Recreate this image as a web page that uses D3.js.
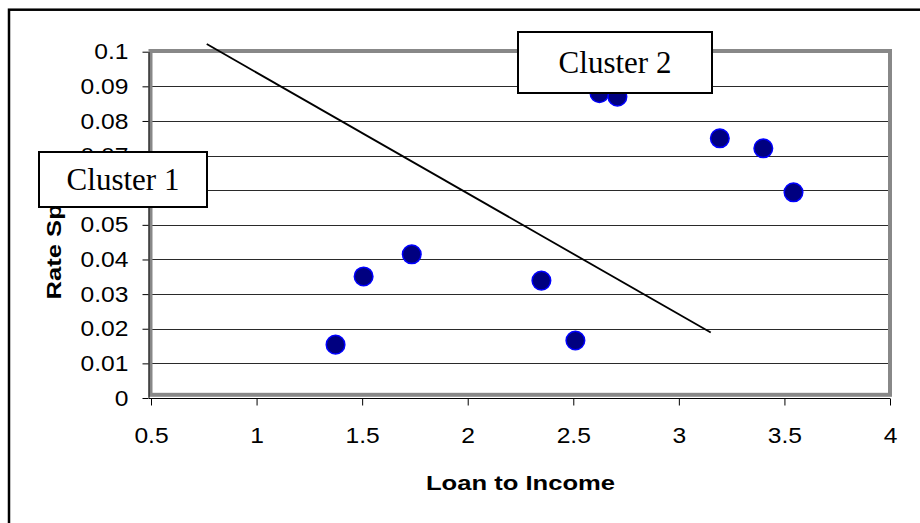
<!DOCTYPE html>
<html lang="en">
<head>
  <script src="https://cdn.jsdelivr.net/npm/d3@7"></script>
  <style>
    body { margin: 0; background: #fff; }
    svg { display: block; }
    .tick line { stroke: #000; }
    .domain { stroke: #000; }
  </style>
</head>
<body>
  <svg id="chart"></svg>
  <script>
    // scatter points
    var loanToIncome = [1.374, 1.507, 1.735, 2.349, 2.510, 2.624, 2.709, 3.194, 3.400, 3.543];
    var rateSpread   = [0.0154, 0.0351, 0.0415, 0.0339, 0.0166, 0.0880, 0.0870, 0.0750, 0.0721, 0.0594];

    // the hand drawn separating line
    var dividerX = [0.764, 3.151];
    var dividerY = [0.1022, 0.0189];

    var xTicks = [0.5, 1, 1.5, 2, 2.5, 3, 3.5, 4];
    var yTicks = [0, 0.01, 0.02, 0.03, 0.04, 0.05, 0.06, 0.07, 0.08, 0.09, 0.1];

    var clusterNames = ['Cluster 1', 'Cluster 2'];

    var width = 920, height = 523;

    var svg = d3.select('#chart')
      .attr('width', width)
      .attr('height', height);

    var x = d3.scaleLinear().domain([0.5, 4]).range([151, 890]);
    var y = d3.scaleLinear().domain([0, 0.1]).range([398, 51.7]);

    // outer chart frame (runs off the right and bottom edges)
    svg.append('rect')
      .attr('x', 9).attr('y', 9.7)
      .attr('width', 1000).attr('height', 1000)
      .attr('fill', '#fff')
      .attr('stroke', '#000')
      .attr('stroke-width', 2.5);

    // gridlines
    svg.append('g')
      .selectAll('line')
      .data(yTicks.filter(function (d) { return d > 0 && d < 0.1; }))
      .enter().append('line')
      .attr('x1', x(0.5)).attr('x2', x(4))
      .attr('y1', function (d) { return Math.round(y(d)) + 0.5; })
      .attr('y2', function (d) { return Math.round(y(d)) + 0.5; })
      .attr('stroke', '#2a2a2a')
      .attr('stroke-width', 1);

    // plot area border
    svg.append('rect')
      .attr('x', x(0.5) - 0.5).attr('y', y(0.1) - 0.7)
      .attr('width', x(4) - x(0.5) + 0.5)
      .attr('height', y(0) - y(0.1) - 2.5)
      .attr('fill', 'none')
      .attr('stroke', '#888')
      .attr('stroke-width', 4);

    // axes
    var yAxis = d3.axisLeft(y).tickValues(yTicks).tickSize(6).tickSizeOuter(0)
      .tickFormat(d3.format('~g'));
    var xAxis = d3.axisBottom(x).tickValues(xTicks).tickSize(7).tickSizeOuter(0)
      .tickFormat(d3.format('~g'));

    var gy = svg.append('g')
      .attr('transform', 'translate(148.5,0)')
      .call(yAxis);
    gy.selectAll('text')
      .attr('x', 0)
      .attr('transform', 'translate(-20,0) scale(1.12,1)')
      .style('font-family', '"Liberation Sans", Arial, sans-serif')
      .style('font-size', '22px')
      .attr('fill', '#000');

    var gx = svg.append('g')
      .attr('transform', 'translate(0,398.5)')
      .call(xAxis);
    gx.selectAll('text')
      .attr('y', 29)
      .attr('dy', '0.71em')
      .attr('transform', 'scale(1.12,1)')
      .attr('x', function (d) { return 0; })
      .style('font-family', '"Liberation Sans", Arial, sans-serif')
      .style('font-size', '22px')
      .attr('fill', '#000');
    gx.selectAll('.domain').attr('d', 'M' + (x(0.5) - 2) + ',0H' + x(4));

    // axis titles
    svg.append('text')
      .attr('transform', 'translate(' + x(2.25) + ',490) scale(1.22,1)')
      .attr('text-anchor', 'middle')
      .style('font-family', '"Liberation Sans", Arial, sans-serif')
      .style('font-weight', 'bold')
      .style('font-size', '21px')
      .text('Loan to Income');

    svg.append('text')
      .attr('transform', 'translate(61,' + y(0.05) + ') rotate(-90) scale(1.22,1)')
      .attr('text-anchor', 'middle')
      .style('font-family', '"Liberation Sans", Arial, sans-serif')
      .style('font-weight', 'bold')
      .style('font-size', '21px')
      .text('Rate Spread');

    // separating line
    var line = d3.line()
      .x(function (d) { return x(d[0]); })
      .y(function (d) { return y(d[1]); });
    svg.append('path')
      .datum(d3.zip(dividerX, dividerY))
      .attr('d', line)
      .attr('fill', 'none')
      .attr('stroke', '#000')
      .attr('stroke-width', 1.8);

    // points
    svg.append('g')
      .selectAll('circle')
      .data(d3.zip(loanToIncome, rateSpread))
      .enter().append('circle')
      .attr('cx', function (d) { return x(d[0]); })
      .attr('cy', function (d) { return y(d[1]); })
      .attr('r', 9.3)
      .attr('fill', '#000080')
      .attr('stroke', '#0000ff')
      .attr('stroke-width', 1.5);

    // cluster label boxes
    var boxes = [
      { name: clusterNames[0], x0: 39, y0: 152, w: 168, h: 55 },
      { name: clusterNames[1], x0: 518, y0: 32, w: 194, h: 61 }
    ];
    var lab = svg.append('g').selectAll('g')
      .data(boxes)
      .enter().append('g')
      .attr('transform', function (d) { return 'translate(' + d.x0 + ',' + d.y0 + ')'; });
    lab.append('rect')
      .attr('width', function (d) { return d.w; })
      .attr('height', function (d) { return d.h; })
      .attr('fill', '#fff')
      .attr('stroke', '#000')
      .attr('stroke-width', 2);
    lab.append('text')
      .attr('x', function (d) { return d.w / 2; })
      .attr('y', function (d) { return d.h / 2 + 10.5; })
      .attr('text-anchor', 'middle')
      .style('font-family', '"Liberation Serif", "Times New Roman", serif')
      .style('font-size', '31px')
      .text(function (d) { return d.name; });
  </script>
</body>
</html>
